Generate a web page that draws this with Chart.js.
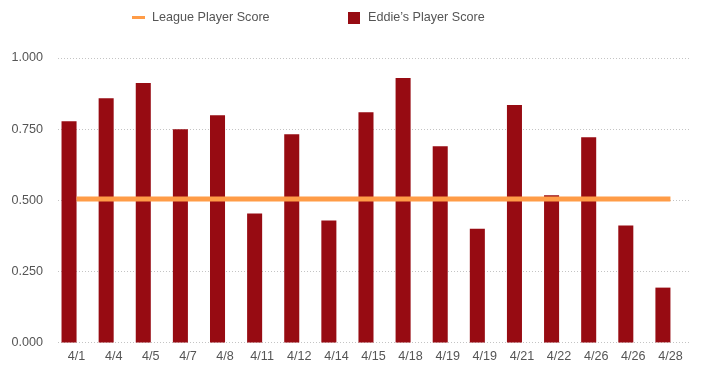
<!DOCTYPE html>
<html>
<head>
<meta charset="utf-8">
<script src="https://cdn.jsdelivr.net/npm/chart.js@4.4.0/dist/chart.umd.min.js"></script>
<style>
  body { margin: 0; background: #fff; }
  #wrap { position: relative; width: 703px; height: 374px; }
  .legend-item { position: absolute; top: 9px; font: 12.6px "Liberation Sans", Arial, sans-serif; color: #555; line-height: 17px; white-space: nowrap; }
  .legend-item .mark { position: absolute; }
</style>
</head>
<body>
<div id="wrap">
  <div id="legend"></div>
  <canvas id="bar-chart" width="703" height="374"></canvas>
</div>
<script>
  // data
  var tanggal = ['4/1', '4/4', '4/5', '4/7', '4/8', '4/11', '4/12', '4/14', '4/15', '4/18', '4/19', '4/19', '4/21', '4/22', '4/26', '4/26', '4/28'];
  var skor_eddie = [0.778, 0.859, 0.912, 0.750, 0.799, 0.454, 0.732, 0.430, 0.810, 0.930, 0.690, 0.401, 0.835, 0.518, 0.722, 0.412, 0.194];
  var skor_liga = [0.505, 0.505, 0.505, 0.505, 0.505, 0.505, 0.505, 0.505, 0.505, 0.505, 0.505, 0.505, 0.505, 0.505, 0.505, 0.505, 0.505];
  var tick_y = [0, 0.25, 0.5, 0.75, 1];

  var warna_liga = '#ff9c47';
  var warna_eddie = '#970b12';
  var huruf = '"Liberation Sans", Arial, sans-serif';

  // empty bar set so the red bars sit left of the category centre, like the original
  var kosong = tanggal.map(function () { return null; });

  var chart = new Chart(document.getElementById('bar-chart'), {
    type: 'bar',
    data: {
      labels: tanggal,
      datasets: [
        {
          type: 'line',
          label: 'League Player Score',
          data: skor_liga,
          borderColor: warna_liga,
          backgroundColor: warna_liga,
          borderWidth: 5,
          pointRadius: 0,
          fill: false,
          order: 0
        },
        {
          label: "Eddie\u2019s Player Score",
          data: skor_eddie,
          backgroundColor: warna_eddie,
          categoryPercentage: 0.81,
          barPercentage: 1,
          order: 1
        },
        {
          label: '',
          data: kosong,
          backgroundColor: 'rgba(0,0,0,0)',
          categoryPercentage: 0.81,
          barPercentage: 1,
          order: 2
        }
      ]
    },
    options: {
      responsive: false,
      animation: false,
      devicePixelRatio: 1,
      layout: { padding: { top: 58, right: 14, bottom: 4, left: 0 } },
      plugins: {
        legend: { display: false },
        tooltip: { enabled: false }
      },
      scales: {
        x: {
          grid: { display: false, drawTicks: false },
          border: { display: false },
          ticks: { color: '#555', font: { family: huruf, size: 12.6 }, padding: 6, maxRotation: 0, autoSkip: false }
        },
        y: {
          min: 0,
          max: 1,
          afterBuildTicks: function (scale) {
            scale.ticks = tick_y.map(function (v) { return { value: v }; });
          },
          afterFit: function (scale) { scale.width = 58; },
          grid: { color: '#c4c4c4', drawTicks: false, lineWidth: 1 },
          border: { display: false, dash: [1, 2] },
          ticks: {
            color: '#555',
            font: { family: huruf, size: 12.6 },
            padding: 15,
            callback: function (v) { return Number(v).toFixed(3); }
          }
        }
      }
    }
  });

  // legend outside the canvas
  var posisi_legend = [132, 348];
  var html = '';
  chart.data.datasets.slice(0, 2).forEach(function (ds, i) {
    var mark;
    if (ds.type == 'line') {
      mark = '<span class="mark" style="left:0;top:7px;width:13px;height:3px;background:' + ds.borderColor + '"></span>';
    } else {
      mark = '<span class="mark" style="left:0;top:3px;width:12px;height:12px;background:' + ds.backgroundColor + '"></span>';
    }
    html += '<div class="legend-item" style="left:' + posisi_legend[i] + 'px;padding-left:20px">' + mark + ds.label + '</div>';
  });
  document.getElementById('legend').innerHTML = html;
</script>
</body>
</html>
